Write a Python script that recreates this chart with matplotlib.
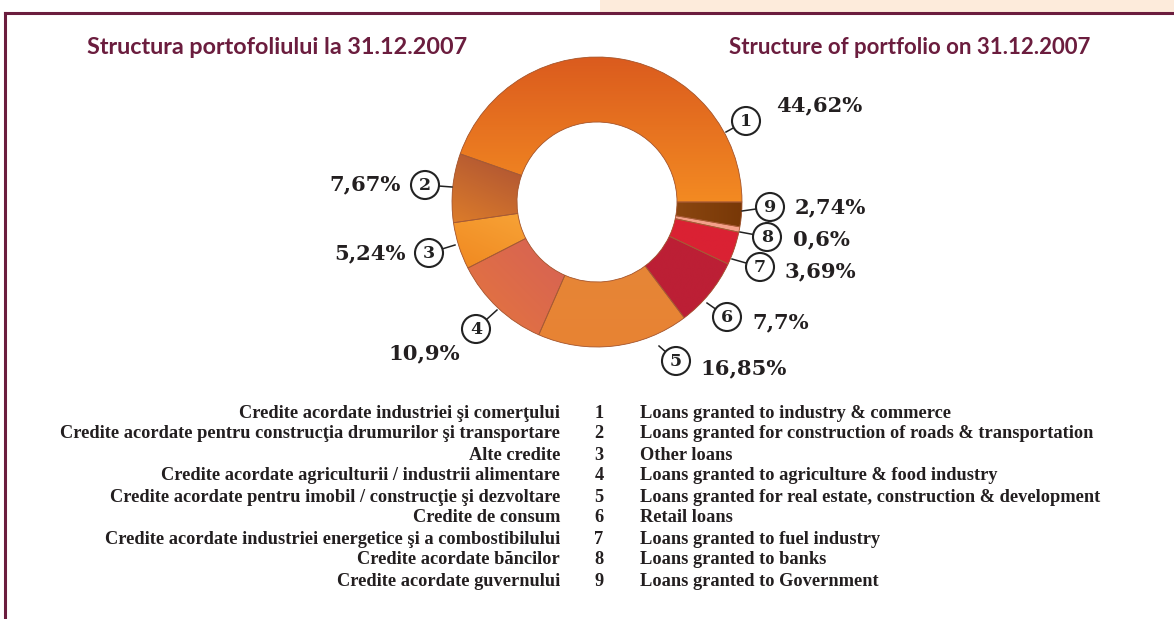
import numpy as np
import matplotlib.pyplot as plt
from matplotlib.colors import LinearSegmentedColormap
from matplotlib.patches import Circle, Rectangle, Wedge

# Data
shares = [44.62, 7.67, 5.24, 10.9, 16.85, 7.7, 3.69, 0.6, 2.74]
share_labels = ["44,62%", "7,67%", "5,24%", "10,9%", "16,85%", "7,7%", "3,69%", "0,6%", "2,74%"]
labels_ro = [
    "Credite acordate industriei şi comerţului",
    "Credite acordate pentru construcţia drumurilor şi transportare",
    "Alte credite",
    "Credite acordate agriculturii / industrii alimentare",
    "Credite acordate pentru imobil / construcţie şi dezvoltare",
    "Credite de consum",
    "Credite acordate industriei energetice şi a combostibilului",
    "Credite acordate băncilor",
    "Credite acordate guvernului",
]
labels_en = [
    "Loans granted to industry & commerce",
    "Loans granted for construction of roads & transportation",
    "Other loans",
    "Loans granted to agriculture & food industry",
    "Loans granted for real estate, construction & development",
    "Retail loans",
    "Loans granted to fuel industry",
    "Loans granted to banks",
    "Loans granted to Government",
]

# colours: (start, end) of a gradient for each slice
slice_colors = [
    ("#da5a1e", "#f38a22"),
    ("#9a4238", "#dc7c2a"),
    ("#fbb142", "#f08820"),
    ("#d0595e", "#e5763d"),
    ("#e5883a", "#e88333"),
    ("#bc1f35", "#bc1f35"),
    ("#da2133", "#da2133"),
    ("#f4a08a", "#f4a08a"),
    ("#a2581b", "#783807"),
]
# gradient direction (dx, dy in pixels, y downwards)
grad_dirs = [(0, 1), (-1, 1), (-1, 1), (-1, 1), (0, 1), (0, 1), (0, 1), (0, 1), (1, 0)]

maroon = "#6b1d3e"
W, H = 1174, 619
cx, cy, R, ring = 597, 202, 145, 65

# layout of the callouts (pixels)
line_start = [(726, 132), (452, 187), (455, 245), (497, 310), (659, 346),
              (707, 303), (732, 259), (740, 232), (742, 211)]
bubble_pos = [(746, 121), (425, 185), (429, 253), (476, 329), (676, 361),
              (727, 317), (760, 267), (767, 237), (770, 207)]
text_pos = [(776, 105, "left"), (401, 184, "right"), (406, 253, "right"),
            (460, 353, "right"), (700, 368, "left"), (752, 322, "left"),
            (785, 271, "left"), (793, 239, "left"), (795, 207, "left")]

fig = plt.figure(figsize=(W / 100, H / 100), dpi=100)
ax = fig.add_axes([0, 0, 1, 1])

wedges, _ = ax.pie(shares, startangle=0, counterclock=False, radius=R,
                   center=(cx, cy),
                   wedgeprops=dict(width=ring, edgecolor="none", linewidth=0))

# gradient fill clipped to each wedge, stretched over the wedge's own box
n = 120
xx, yy = np.meshgrid(np.linspace(-1, 1, n), np.linspace(-1, 1, n))
for w, (c0, c1), (dx, dy) in zip(wedges, slice_colors, grad_dirs):
    w.set_facecolor(c1)
    verts = w.get_path().vertices
    x0, x1 = verts[:, 0].min(), verts[:, 0].max()
    y0, y1 = verts[:, 1].min(), verts[:, 1].max()
    cmap = LinearSegmentedColormap.from_list("g", [c0, c1])
    im = ax.imshow(xx * dx + yy * dy, cmap=cmap, extent=[x0, x1, y1, y0],
                   aspect="auto", zorder=1.5, interpolation="bilinear")
    im.set_clip_path(w)
    ax.add_patch(Wedge(w.center, w.r, w.theta1, w.theta2, width=w.width,
                       facecolor="none", edgecolor="#a65a35", linewidth=0.6, zorder=2))

# callouts
for i in range(len(shares)):
    bx, by = bubble_pos[i]
    sx, sy = line_start[i]
    d = np.hypot(bx - sx, by - sy)
    ex, ey = bx - (bx - sx) * 14 / d, by - (by - sy) * 14 / d
    ax.plot([sx, ex], [sy, ey], color="#222222", lw=1.1, zorder=3)
    ax.add_patch(Circle((bx, by), 14, facecolor="white", edgecolor="#222222", lw=1.5, zorder=3))
    ax.text(bx, by + 1, str(i + 1), ha="center", va="center", fontsize=12.5,
            family="DejaVu Serif", weight="semibold", color="#222222", zorder=4)
    tx, ty, ha = text_pos[i]
    ax.text(tx, ty, share_labels[i], ha=ha, va="center", fontsize=15.2,
            family="DejaVu Serif", weight="bold", color="#231f20", zorder=4)

# titles
ax.text(87, 47, "Structura portofoliului la 31.12.2007", ha="left", va="center",
        fontsize=16.8, family="Lato", weight="bold", color=maroon)
ax.text(1090, 47, "Structure of portfolio on 31.12.2007", ha="right", va="center",
        fontsize=16.0, family="Lato", weight="bold", color=maroon)

# legend table
for i in range(len(labels_ro)):
    y = 413 + i * 21
    ax.text(560, y, labels_ro[i], ha="right", va="center", fontsize=13.2,
            family="Liberation Serif", weight="bold", color="#231f20")
    ax.text(599, y, str(i + 1), ha="center", va="center", fontsize=13.2,
            family="Liberation Serif", weight="bold", color="#231f20")
    ax.text(640, y, labels_en[i], ha="left", va="center", fontsize=13.2,
            family="Liberation Serif", weight="bold", color="#231f20")

# page frame
ax.add_patch(Rectangle((600, 0), W - 600, 12, facecolor="#fdebdb", edgecolor="none", zorder=0))
ax.plot([5, W], [13, 13], color=maroon, lw=2.2, zorder=5)
ax.plot([5, 5], [13, H], color=maroon, lw=2.2, zorder=5)

ax.set_xlim(0, W)
ax.set_ylim(H, 0)
ax.set_aspect("auto")
ax.axis("off")

fig.savefig("out.png", dpi=100)
